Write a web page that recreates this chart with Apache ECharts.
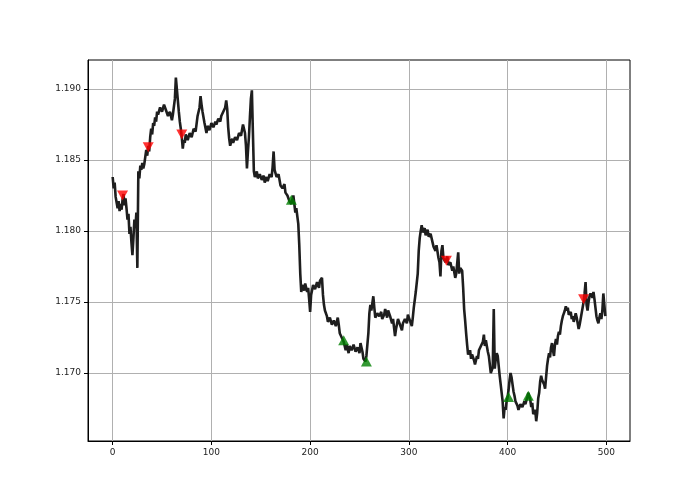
<!DOCTYPE html>
<html><head><meta charset="utf-8">
<script src="https://cdn.jsdelivr.net/npm/echarts@6/dist/echarts.min.js"></script>
<style>html,body{margin:0;padding:0;background:#fff}#c{width:700px;height:496px}</style>
</head><body><div id="c"></div>
<script>
const xTicks = [0, 100, 200, 300, 400, 500];
const yTicks = [1.170, 1.175, 1.180, 1.185, 1.190];

const idx = [0,1,2,3,4,5,6,7,8,9,10,11,12,13,14,15,16,17,18,19,20,21,22,23,24,25,26,27,28,29,30,31,32,33,34,35,36,37,38,39,40,41,42,43,44,45,46,48,50,52,54,56,58,60,61,63,64,65,66,67,68,69,70,71,72,73,74,76,78,80,82,84,86,88,89,90,91,93,95,96,98,100,102,104,105,107,109,110,112,114,115,116,117,118,119,121,122,124,126,128,130,132,133,134,135,136,137,138,139,140,141,142,143,144,146,147,149,151,153,154,156,157,159,161,162,163,164,166,168,170,172,174,175,177,179,181,183,184,185,186,188,189,190,191,192,194,195,197,198,199,200,201,203,205,207,209,210,212,213,214,215,217,218,220,222,224,226,228,229,230,232,234,236,237,239,240,242,244,246,248,250,251,253,254,256,257,259,260,261,262,264,265,266,268,270,272,273,275,276,278,279,281,283,284,286,287,289,291,293,294,296,298,299,301,303,304,305,307,309,310,311,312,313,314,316,317,319,320,322,324,325,327,328,330,331,332,333,334,335,337,339,340,342,344,345,347,348,350,351,352,354,355,356,357,358,359,360,362,363,364,366,367,369,370,371,373,375,376,377,378,380,381,382,383,385,386,387,388,389,390,391,392,393,394,395,396,397,398,399,400,401,402,403,404,405,406,407,408,410,411,413,415,417,418,420,421,423,424,425,426,428,429,430,431,432,433,434,435,437,438,439,440,441,442,443,444,445,446,447,448,449,450,451,452,453,454,455,456,457,458,459,460,461,462,464,465,466,467,469,470,471,472,473,474,475,476,477,478,479,480,481,482,483,484,486,487,488,489,490,491,492,493,494,495,496,497,498,499];
const price = [1.1838,1.1830,1.1834,1.1824,1.1820,1.1816,1.1821,1.1814,1.1819,1.1815,1.1822,1.1826,1.1818,1.1823,1.1816,1.1808,1.1812,1.1798,1.1803,1.1792,1.1783,1.1795,1.1808,1.1802,1.1813,1.1774,1.1842,1.1837,1.1846,1.1843,1.1848,1.1844,1.1847,1.1852,1.1857,1.1853,1.1860,1.1856,1.1866,1.1872,1.1868,1.1876,1.1874,1.1880,1.1877,1.1884,1.1882,1.1887,1.1884,1.1889,1.1885,1.1881,1.1884,1.1878,1.1882,1.1893,1.1908,1.1900,1.1892,1.1884,1.1877,1.1872,1.1866,1.1858,1.1864,1.1862,1.1868,1.1864,1.1869,1.1866,1.1872,1.1870,1.1881,1.1887,1.1895,1.1889,1.1884,1.1876,1.1869,1.1874,1.1871,1.1876,1.1873,1.1877,1.1875,1.1879,1.1877,1.1881,1.1884,1.1887,1.1892,1.1886,1.1873,1.1865,1.1860,1.1865,1.1862,1.1866,1.1864,1.1869,1.1867,1.1875,1.1872,1.1869,1.1860,1.1844,1.1856,1.1866,1.1880,1.1893,1.1899,1.1870,1.1842,1.1838,1.1842,1.1837,1.1840,1.1836,1.1839,1.1834,1.1838,1.1835,1.1840,1.1838,1.1845,1.1856,1.1843,1.1838,1.1840,1.1832,1.1830,1.1833,1.1827,1.1825,1.1821,1.1819,1.1825,1.1819,1.1813,1.1816,1.1805,1.1790,1.1770,1.1757,1.1762,1.1758,1.1763,1.1757,1.1760,1.1752,1.1743,1.1755,1.1762,1.1759,1.1764,1.1760,1.1765,1.1767,1.1755,1.1748,1.1744,1.1740,1.1736,1.1739,1.1734,1.1737,1.1733,1.1739,1.1734,1.1728,1.1725,1.1722,1.1716,1.1720,1.1714,1.1719,1.1716,1.1720,1.1715,1.1718,1.1714,1.1721,1.1715,1.1710,1.1708,1.1712,1.1728,1.1742,1.1748,1.1744,1.1754,1.1746,1.1739,1.1742,1.1740,1.1743,1.1738,1.1741,1.1745,1.1739,1.1744,1.1740,1.1735,1.1738,1.1726,1.1731,1.1738,1.1734,1.1730,1.1735,1.1738,1.1735,1.1741,1.1737,1.1733,1.1739,1.1746,1.1757,1.1770,1.1786,1.1795,1.1800,1.1804,1.1799,1.1802,1.1797,1.1801,1.1796,1.1798,1.1792,1.1789,1.1786,1.1790,1.1781,1.1778,1.1768,1.1786,1.1790,1.1781,1.1778,1.1782,1.1776,1.1778,1.1772,1.1775,1.1767,1.1770,1.1785,1.1770,1.1774,1.1772,1.1760,1.1745,1.1737,1.1728,1.1720,1.1713,1.1716,1.1710,1.1713,1.1709,1.1706,1.1712,1.1710,1.1716,1.1719,1.1722,1.1727,1.1719,1.1723,1.1715,1.1712,1.1706,1.1700,1.1704,1.1745,1.1703,1.1710,1.1714,1.1712,1.1705,1.1698,1.1692,1.1686,1.1680,1.1668,1.1676,1.1674,1.1680,1.1683,1.1688,1.1695,1.1700,1.1697,1.1692,1.1687,1.1684,1.1680,1.1677,1.1674,1.1678,1.1676,1.1680,1.1678,1.1683,1.1686,1.1681,1.1676,1.1679,1.1671,1.1674,1.1666,1.1672,1.1682,1.1686,1.1694,1.1698,1.1695,1.1692,1.1689,1.1697,1.1705,1.1710,1.1714,1.1711,1.1718,1.1721,1.1716,1.1712,1.1720,1.1724,1.1720,1.1726,1.1729,1.1727,1.1733,1.1737,1.1740,1.1742,1.1744,1.1747,1.1744,1.1746,1.1741,1.1743,1.1738,1.1740,1.1736,1.1742,1.1739,1.1735,1.1731,1.1734,1.1738,1.1742,1.1746,1.1750,1.1756,1.1764,1.1748,1.1744,1.1750,1.1754,1.1756,1.1753,1.1757,1.1752,1.1746,1.1740,1.1737,1.1735,1.1739,1.1742,1.1738,1.1744,1.1756,1.1748,1.1740];

const sellIdx = [10, 36, 70, 338, 477];
const sellVal = [1.1825, 1.1859, 1.1868, 1.1779, 1.1752];
const buyIdx = [181, 234, 257, 401, 421];
const buyVal = [1.1822, 1.1723, 1.1708, 1.1683, 1.1684];

const chart = echarts.init(document.getElementById('c'), null, {renderer: 'canvas'});
const axisCommon = {
  axisLine: {show: true, onZero: false, lineStyle: {color: '#000', width: 1}},
  axisTick: {show: true, length: 4, inside: false, lineStyle: {color: '#000', width: 1}},
  splitLine: {show: true, lineStyle: {color: '#b0b0b0', width: 1}},
  axisLabel: {color: '#222', fontFamily: 'DejaVu Sans', fontSize: 9}
};
chart.setOption({
  animation: false,
  backgroundColor: '#fff',
  grid: {left: 88, right: 70, top: 60, bottom: 55, containLabel: false, show: true, borderColor: '#000', borderWidth: 1},
  xAxis: Object.assign({}, axisCommon, {
    type: 'value', min: -25, max: 524,
    axisTick: Object.assign({}, axisCommon.axisTick, {customValues: xTicks}),
    axisLabel: Object.assign({}, axisCommon.axisLabel, {customValues: xTicks, margin: 7})
  }),
  yAxis: Object.assign({}, axisCommon, {
    type: 'value', min: 1.16521, max: 1.19204,
    axisTick: Object.assign({}, axisCommon.axisTick, {customValues: yTicks}),
    axisLabel: Object.assign({}, axisCommon.axisLabel, {customValues: yTicks, margin: 7, formatter: v => v.toFixed(3)})
  }),
  series: [
    {type: 'line', data: idx.map((x, i) => [x, price[i]]), showSymbol: false, symbol: 'none',
     lineStyle: {color: '#1e1e1e', width: 2.6}, z: 2},
    {type: 'scatter', data: sellIdx.map((x, i) => [x, sellVal[i]]), symbol: 'triangle', symbolRotate: 180,
     symbolSize: [11, 10], itemStyle: {color: '#ff0000'}, z: 3},
    {type: 'scatter', data: buyIdx.map((x, i) => [x, buyVal[i]]), symbol: 'triangle',
     symbolSize: [11, 10], itemStyle: {color: '#008000'}, z: 3}
  ]
});
</script></body></html>
